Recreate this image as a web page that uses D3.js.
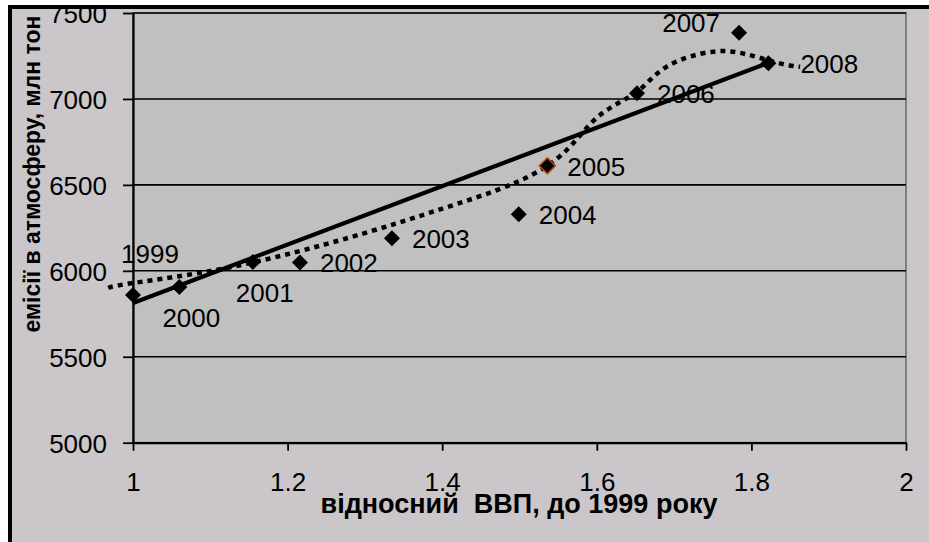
<!DOCTYPE html>
<html>
<head>
<meta charset="utf-8">
<script src="https://cdn.jsdelivr.net/npm/d3@7/dist/d3.min.js"></script>
<style>
  html, body { margin: 0; padding: 0; background: #ffffff; }
  svg { display: block; font-family: "Liberation Sans", Arial, sans-serif; }
</style>
</head>
<body>
<svg id="chart" width="929" height="542"></svg>
<script>
// ---- data ----
const years   = ["1999","2000","2001","2002","2003","2004","2005","2006","2007","2008"];
const gdpRel  = [1.000, 1.060, 1.155, 1.216, 1.335, 1.499, 1.536, 1.652, 1.784, 1.822];
const emiss   = [5859, 5906, 6051, 6049, 6189, 6329, 6611, 7033, 7385, 7207];
const labelPos = ["above","below","below","right","right","right","right","right","left","farright"];
// linear trend end points (as drawn)
const linX = [1.0, 1.822];
const linY = [5813, 7210];
// polynomial trend (dotted) points
const polyX = [0.968, 1.000, 1.129, 1.281, 1.388, 1.496, 1.561, 1.604, 1.652, 1.690, 1.750, 1.798, 1.837, 1.863];
const polyY = [5900, 5929, 6024, 6195, 6344, 6515, 6703, 6906, 7042, 7187, 7275, 7255, 7207, 7187];
const xTicks = [1, 1.2, 1.4, 1.6, 1.8, 2];
const yTicks = [5000, 5500, 6000, 6500, 7000, 7500];
const xTitle = "відносний  ВВП, до 1999 року";
const yTitle = "емісії в атмосферу, млн тон";

// ---- drawing ----
const svg = d3.select("#chart");
const plot = {left: 133, right: 906, top: 13, bottom: 442.7};

svg.append("rect").attr("x", 10).attr("y", 7).attr("width", 960).attr("height", 580)
  .attr("fill", "#cac6ca");

const x = d3.scaleLinear().domain([1, 2]).range([plot.left, plot.right]);
const y = d3.scaleLinear().domain([5000, 7500]).range([plot.bottom, plot.top]);

svg.append("rect").attr("x", plot.left).attr("y", plot.top)
  .attr("width", plot.right - plot.left).attr("height", plot.bottom - plot.top)
  .attr("fill", "#c0c0c0").attr("stroke", "#808080").attr("stroke-width", 2);

// gridlines
svg.append("g").selectAll("line").data(yTicks.filter(v => v > 5000)).join("line")
  .attr("x1", plot.left).attr("x2", plot.right)
  .attr("y1", d => y(d)).attr("y2", d => y(d))
  .attr("stroke", "#000").attr("stroke-width", 1.6);

// axes
const fmt = d => String(+d.toFixed(1));
const yAxis = svg.append("g").attr("transform", `translate(${plot.left},0)`)
  .call(d3.axisLeft(y).tickValues(yTicks).tickFormat(d3.format("d")).tickSize(10).tickPadding(16).tickSizeOuter(0));
const xAxis = svg.append("g").attr("transform", `translate(0,${plot.bottom})`)
  .call(d3.axisBottom(x).tickValues(xTicks).tickFormat(fmt).tickSize(8).tickPadding(22).tickSizeOuter(0));
[yAxis, xAxis].forEach(g => {
  g.select(".domain").attr("stroke", "#000").attr("stroke-width", 2.2);
  g.selectAll(".tick line").attr("stroke", "#000").attr("stroke-width", 1.8);
  g.selectAll(".tick text").attr("fill", "#000").style("font-size", "26px")
    .style("font-family", "'Liberation Sans', Arial, sans-serif");
});
yAxis.selectAll(".tick text").attr("dy", "0.36em");

// trend lines
const line = d3.line().x(d => x(d[0])).y(d => y(d[1]));
svg.append("path").datum(linX.map((v, i) => [v, linY[i]]))
  .attr("d", line).attr("fill", "none").attr("stroke", "#000").attr("stroke-width", 4.2);
svg.append("path").datum(polyX.map((v, i) => [v, polyY[i]]))
  .attr("d", line.curve(d3.curveNatural)).attr("fill", "none")
  .attr("stroke", "#000").attr("stroke-width", 4.5).attr("stroke-dasharray", "5,5");

// markers
const pts = years.map((yr, i) => ({yr, gx: gdpRel[i], e: emiss[i], pos: labelPos[i]}));
const diamond = r => `M0,${-r}L${r},0L0,${r}L${-r},0Z`;
svg.append("g").selectAll("path").data(pts).join("path")
  .attr("transform", d => `translate(${x(d.gx)},${y(d.e)})`)
  .attr("d", diamond(8))
  .attr("fill", "#000")
  .attr("stroke", d => d.yr === "2005" ? "#b84a10" : "none")
  .attr("stroke-width", 1.6);

// data labels
const off = {
  above:   {dx: -12, dy: -32, anchor: "start"},
  below:   {dx: -17, dy: 40, anchor: "start"},
  right:   {dx: 20, dy: 10, anchor: "start"},
  left:    {dx: -19, dy: -1, anchor: "end"},
  farright:{dx: 32, dy: 10, anchor: "start"}
};
svg.append("g").selectAll("text").data(pts).join("text")
  .attr("x", d => x(d.gx) + off[d.pos].dx)
  .attr("y", d => y(d.e) + off[d.pos].dy)
  .attr("text-anchor", d => off[d.pos].anchor)
  .style("font-size", "26px").attr("fill", "#000")
  .text(d => d.yr);

// axis titles
svg.append("text").attr("x", 519).attr("y", 513).attr("text-anchor", "middle")
  .style("font-size", "27px").style("font-weight", "bold").style("white-space", "pre")
  .text(xTitle);
svg.append("text").attr("transform", "translate(40,174) rotate(-90)").attr("text-anchor", "middle")
  .style("font-size", "23px").style("font-weight", "bold")
  .text(yTitle);

// outer frame (top and left edges visible), drawn on top
svg.append("rect").attr("x", 10).attr("y", 7).attr("width", 960).attr("height", 580)
  .attr("fill", "none").attr("stroke", "#000").attr("stroke-width", 4);
</script>
</body>
</html>
